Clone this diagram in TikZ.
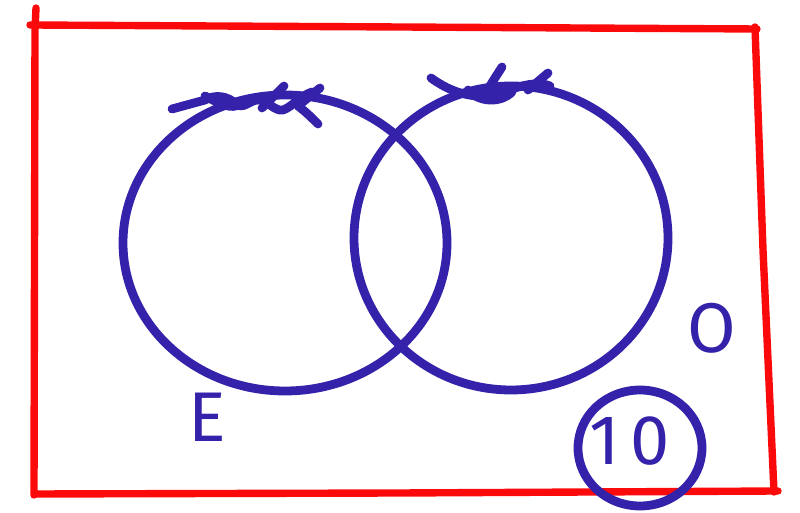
\documentclass[tikz,border=0pt]{standalone}
\usepackage{fontspec}
\setmainfont{Fira Sans}
\definecolor{pen}{RGB}{52,34,170}
\definecolor{redpen}{RGB}{250,10,10}
\begin{document}
\begin{tikzpicture}[x=0.01cm,y=-0.01cm,
  bluestroke/.style={draw=pen,line width=2.5pt,line cap=round,line join=round},
  redstroke/.style={draw=redpen,line width=2.1pt,line cap=round,line join=round},
  lbl/.style={text=pen,font=\fontsize{20}{20}\selectfont,inner sep=0pt}]
\useasboundingbox (0,0) rectangle (800,513);
% red frame
\draw[redstroke] (36,8) -- (35,30) -- (34,495);
\draw[redstroke] (30,25) -- (400,27) -- (757,29);
\draw[redstroke] (755,27) -- (763,250) -- (774,492);
\draw[redstroke] (35,494) -- (400,493) -- (778,491);
% circles
\draw[bluestroke] (285,243) ellipse [x radius=162, y radius=148];
\draw[bluestroke] (511,238) ellipse [x radius=157, y radius=152];
% scribbles left
\draw[bluestroke] (172,109) -- (205,100) .. controls (215,94) and (228,96) .. (236,104)
  .. controls (243,110) and (250,100) .. (258,100) .. controls (266,99) and (275,112) .. (283,110)
  .. controls (292,107) and (300,96) .. (312,92);
\draw[bluestroke] (205,96) .. controls (220,104) and (232,110) .. (240,104);
\draw[bluestroke] (284,86) -- (262,108);
\draw[bluestroke] (320,88) -- (298,106) .. controls (306,112) and (312,118) .. (318,124);
% scribbles right
\draw[bluestroke] (431,78) .. controls (445,88) and (460,95) .. (478,96)
  .. controls (490,97) and (500,92) .. (515,88) .. controls (528,84) and (540,82) .. (550,86);
\draw[bluestroke] (502,67) .. controls (495,78) and (488,88) .. (484,98);
\draw[bluestroke] (548,73) -- (528,90);
\draw[bluestroke] (468,90) .. controls (478,102) and (500,104) .. (512,92);
% labels
\node[lbl] (E) at (207,417) {E};
\node[lbl] (O) at (712,328) {O};
\node[lbl] (ten) at (630,441) {1\kern3pt0};
\draw[bluestroke] (640,448) ellipse [x radius=62, y radius=58];
\end{tikzpicture}
\end{document}
